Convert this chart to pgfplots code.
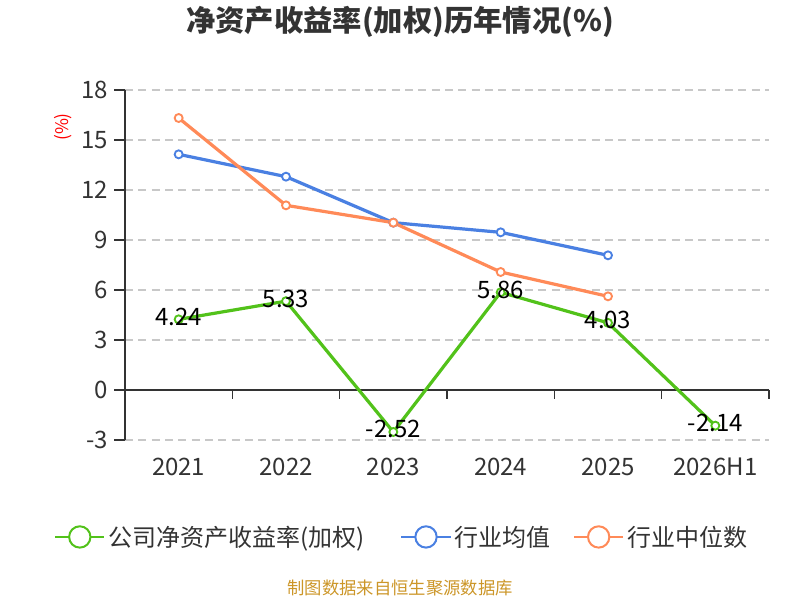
\documentclass[border=0pt]{standalone}
\usepackage{fontspec}
\setmainfont{Noto Sans CJK SC}
\usepackage{pgfplots}
\pgfplotsset{compat=1.18}
\definecolor{cgreen}{RGB}{82,194,26}
\definecolor{cblue}{RGB}{74,128,226}
\definecolor{corange}{RGB}{255,138,88}
\definecolor{ctext}{RGB}{51,51,51}
\definecolor{cgrid}{RGB}{200,200,200}
\definecolor{cfoot}{RGB}{204,150,40}
\begin{document}
\begin{tikzpicture}[x=0.75pt,y=0.75pt]
\useasboundingbox (0,0) rectangle (800,600);
\begin{axis}[
  at={(93.75pt,120pt)}, anchor=south west,
  scale only axis, width=483pt, height=262.5pt,
  xmin=-0.5, xmax=5.5, ymin=-3, ymax=18,
  clip=false,
  axis x line*=bottom, axis y line*=left,
  x axis line style={draw=none},
  y axis line style={ctext, line width=1.2pt, -},
  xtick={0,1,2,3,4,5},
  xticklabels={2021,2022,2023,2024,2025,2026H1},
  major x tick style={draw=none},
  ytick={-3,0,3,6,9,12,15,18},
  ytick style={ctext, line width=1.2pt},
  tick align=outside, major tick length=8pt,
  /pgf/number format/assume math mode=true,
  yticklabel style={font=\fontsize{18}{18}\selectfont, text=ctext, xshift=-1pt},
  xticklabel style={font=\fontsize{18}{18}\selectfont, text=ctext, yshift=-2pt},
  ymajorgrids, grid style={cgrid, line width=1pt, dash pattern=on 6pt off 4pt},
  legend columns=3,
  legend style={draw=none, fill=none, at={(0.43,-0.277)}, anchor=center,
    font=\fontsize{18}{18}\selectfont, text=ctext,
    /tikz/every even column/.append style={column sep=15pt}},
]
\draw[ctext, line width=1.2pt] (axis cs:-0.5,0) -- (axis cs:5.5,0);
\pgfplotsinvokeforeach{0.5,1.5,2.5,3.5,4.5,5.5}{
  \draw[ctext, line width=1.2pt] (axis cs:#1,0) -- ++(0pt,-6.75pt);
}
\addplot[cgreen, line width=2.4pt, mark=*, mark size=3pt,
  mark options={fill=white, line width=1.4pt},
  point meta=explicit symbolic,
  nodes near coords,
  nodes near coords style={anchor=center, text=black, yshift=2pt, font=\fontsize{18}{18}\selectfont},
  legend image code/.code={\draw[cgreen, line width=1.5pt] (0pt,0pt) -- (37pt,0pt);
    \draw[cgreen, line width=1.5pt, fill=white] (18.5pt,0pt) circle (8pt);}]
  coordinates {(0,4.24)[4.24] (1,5.33)[5.33] (2,-2.52)[-2.52] (3,5.86)[5.86] (4,4.03)[4.03] (5,-2.14)[-2.14]};
\addlegendentry{公司净资产收益率(加权)\rule{10pt}{0pt}}
\addplot[cblue, line width=2.4pt, mark=*, mark size=3pt,
  mark options={fill=white, line width=1.4pt},
  legend image code/.code={\draw[cblue, line width=1.5pt] (0pt,0pt) -- (37pt,0pt);
    \draw[cblue, line width=1.5pt, fill=white] (18.5pt,0pt) circle (8pt);}]
  coordinates {(0,14.14) (1,12.8) (2,10.04) (3,9.46) (4,8.08)};
\addlegendentry{行业均值}
\addplot[corange, line width=2.4pt, mark=*, mark size=3pt,
  mark options={fill=white, line width=1.4pt},
  legend image code/.code={\draw[corange, line width=1.5pt] (0pt,0pt) -- (37pt,0pt);
    \draw[corange, line width=1.5pt, fill=white] (18.5pt,0pt) circle (8pt);}]
  coordinates {(0,16.32) (1,11.08) (2,10.04) (3,7.08) (4,5.62)};
\addlegendentry{行业中位数}
\end{axis}
\node[text=ctext, font=\fontsize{22}{22}\selectfont\bfseries] at (400,578) {净资产收益率(加权)历年情况(\%)};
\node[text=red, rotate=90, font=\fontsize{13}{13}\selectfont] at (63,473) {(\%)};
\node[text=cfoot, font=\fontsize{13}{13}\selectfont] at (400,12) {制图数据来自恒生聚源数据库};
\end{tikzpicture}
\end{document}
